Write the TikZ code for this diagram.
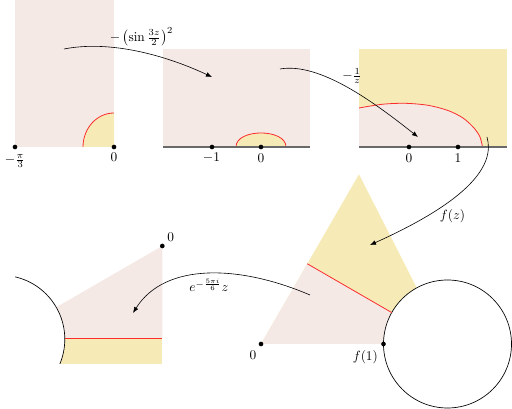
\documentclass[tikz,border=0pt]{standalone}
\usetikzlibrary{arrows.meta}
\definecolor{pinkF}{RGB}{245,233,230}
\definecolor{yellowF}{RGB}{246,234,182}
\definecolor{redL}{RGB}{250,45,45}
\definecolor{axisG}{RGB}{105,105,105}
\begin{document}
\begin{tikzpicture}[x=0.75pt,y=-0.75pt,
  dot/.style={circle,fill=black,inner sep=0pt,minimum size=3.5pt},
  lbl/.style={inner sep=0pt},
  map/.style={-{Latex[length=4.5pt,width=3.5pt]},line width=0.45pt},
  redline/.style={redL,line width=0.6pt},
  axisline/.style={axisG,line width=0.8pt},
  rim/.style={black,line width=0.5pt}]
\useasboundingbox (0,0) rectangle (512,409);

% ---------- panel 1 ----------
\fill[pinkF] (15,0) rectangle (114,147);
\fill[yellowF] (114,147) -- (83,147) .. controls (83,128.2) and (96.9,113) .. (114,113) -- cycle;
\draw[redline] (83,147) .. controls (83,128.2) and (96.9,113) .. (114,113);
\node[dot] (p1a) at (15,147) {};
\node[dot] (p1b) at (114,147) {};
\node[lbl] (l1a) at (15,161) {$-\frac{\pi}{3}$};
\node[lbl] (l1b) at (114,157.5) {$0$};

% ---------- panel 2 ----------
\fill[pinkF] (163,49) rectangle (310,147);
\fill[yellowF] (236,147) .. controls (236,128.3) and (286,128.3) .. (286,147) -- cycle;
\draw[redline] (236,147) .. controls (236,128.3) and (286,128.3) .. (286,147);
\draw[axisline] (163,147) -- (310,147);
\node[dot] (p2a) at (212,147) {};
\node[dot] (p2b) at (261,147) {};
\node[lbl] (l2a) at (211.5,158) {$-1$};
\node[lbl] (l2b) at (261,158) {$0$};

% ---------- panel 3 ----------
\fill[yellowF] (359,49) rectangle (507,147);
\fill[pinkF] (359,147) -- plot[smooth] coordinates {(359,108) (382,104.3) (405,103.3) (428,105.3) (448,110.5) (463,118) (474,128) (480,137) (482.5,147)} -- cycle;
\draw[redline] plot[smooth] coordinates {(359,108) (382,104.3) (405,103.3) (428,105.3) (448,110.5) (463,118) (474,128) (480,137) (482.5,147)};
\draw[axisline] (359,147) -- (507,147);
\node[dot] (p3a) at (409,147) {};
\node[dot] (p3b) at (458,147) {};
\node[lbl] (l3a) at (409,158) {$0$};
\node[lbl] (l3b) at (458,158) {$1$};

% ---------- panel 4 ----------
\fill[yellowF] (261,344) -- (359,174.3) -- (445.3,344) -- cycle;
\fill[pinkF] (261,344) -- (307.3,263.8) -- (420,328.8) -- (420,344) -- cycle;
\fill[white] (447.5,344) circle[radius=48pt];
\draw[rim] (447.5,344) circle[radius=48pt];
\draw[redline] (307.3,263.8) -- (391.8,312.6);
\node[dot] (p4a) at (261,344) {};
\node[dot] (p4b) at (383.5,344) {};
\node[lbl] (l4a) at (253,355) {$0$};
\node[lbl] (l4b) at (365.3,356.7) {$f(1)$};

% ---------- panel 5 ----------
\begin{scope}
\clip (15,200) rectangle (175,364);
\fill[pinkF] (162.3,246) -- (1.9,338.6) -- (162.3,338.6) -- cycle;
\fill[yellowF] (0,338.6) rectangle (162.3,364);
\fill[white] (0.8,339.25) circle[radius=48pt];
\draw[rim] (0.8,339.25) circle[radius=48pt];
\draw[redline] (64.8,338.6) -- (162.3,338.6);
\end{scope}
\node[dot] (p5a) at (162.3,246) {};
\node[lbl] (l5a) at (170.7,237.3) {$0$};

% ---------- maps ----------
\coordinate (a1s) at (64,49);   \coordinate (a1e) at (212,77);
\coordinate (a2s) at (280,69);  \coordinate (a2e) at (418,137);
\coordinate (a3s) at (487,137); \coordinate (a3e) at (370,245);
\coordinate (a4s) at (310,295); \coordinate (a4e) at (133,313);
\draw[map] (a1s) .. controls (110,40) and (165,55) .. (a1e);
\draw[map] (a2s) .. controls (320,62) and (375,103) .. (a2e);
\draw[map] (a3s) .. controls (495,165) and (470,200) .. (a3e);
\draw[map] (a4s) .. controls (240,265) and (165,262) .. (a4e);
\node[lbl] (m1) at (141.5,36.5) {$-\left(\sin\frac{3z}{2}\right)^2$};
\node[lbl] (m2) at (352,76) {$-\frac{1}{z}$};
\node[lbl] (m3) at (452.5,216) {$f(z)$};
\node[lbl] (m4) at (209,285.5) {$e^{-\frac{5\pi i}{6}}z$};
\end{tikzpicture}
\end{document}
